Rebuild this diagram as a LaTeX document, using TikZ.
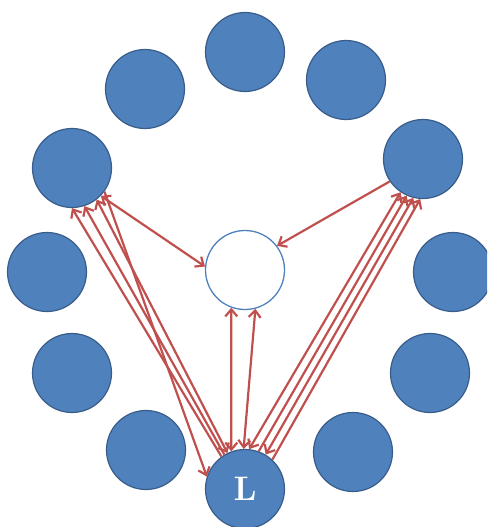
\documentclass[tikz,border=0pt]{standalone}
\usetikzlibrary{arrows.meta}
\definecolor{cfill}{HTML}{4F81BD}
\definecolor{cline}{HTML}{385D8A}
\definecolor{arr}{HTML}{C0504D}
\tikzset{
  member/.style={circle, fill=cfill, draw=cline, line width=1.2pt, minimum size=79pt, inner sep=0pt},
  hub/.style={circle, fill=white, draw=cfill, line width=1.3pt, minimum size=79pt, inner sep=0pt},
  link/.style={draw=arr, line width=2.2pt},
  tip/.tip={Straight Barb[length=7pt,width=12pt,line width=2.2pt]}
}
\begin{document}
\begin{tikzpicture}[x=1pt,y=-1pt]
\useasboundingbox (0,0) rectangle (487,527);
\begin{scope}
\clip (0,0) rectangle (487,527);
\node[member] (top) at (245,52) {};
\node[member] (tl) at (145,89) {};
\node[member] (tr) at (346,80) {};
\node[member] (ul) at (72,168) {};
\node[member] (ur) at (423,159) {};
\node[member] (ml) at (47,272) {};
\node[member] (mr) at (453,272) {};
\node[member] (ll) at (72,373) {};
\node[member] (lr) at (430,373) {};
\node[member] (bl) at (146,450) {};
\node[member] (br) at (353,452) {};
\node[member, text=white, font={\fontsize{34}{34}\selectfont\bfseries}] (L) at (245,489) {L};
\node[hub] (c) at (245,270) {};
\end{scope}
% left group
\path[link, -tip] (L.126) -- (ul.-90);
\path[link, -tip] (L.121) -- (ul.-72);
\path[link, tip-tip] (L.116) -- (ul.-52);
\path[link, -tip] (ul.-36) -- (L.162);
\path[link, tip-tip] (ul.-44) -- (c.175);
% right group
\path[link, -tip] (ur.-146) -- (c.37);
\path[link, tip-tip] (L.84) -- (ur.-124);
\path[link, -tip] (L.70) -- (ur.-114);
\path[link, tip-tip] (L.59) -- (ur.-104);
\path[link, -tip] (L.47) -- (ur.-94);
% vertical
\path[link, tip-tip] (L.110) -- (c.-110);
\path[link, tip-tip] (L.92) -- (c.-75);
\end{tikzpicture}
\end{document}
